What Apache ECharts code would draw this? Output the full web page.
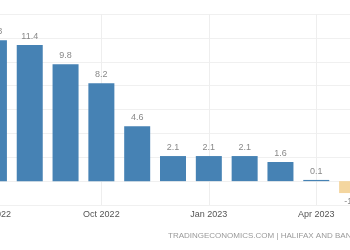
<!DOCTYPE html>
<html><head><meta charset="utf-8">
<script src="https://cdn.jsdelivr.net/npm/echarts@6/dist/echarts.min.js"></script>
<style>html,body{margin:0;padding:0;background:#fff;overflow:hidden}#c{position:absolute;left:-26px;top:0;width:396px;height:250px}</style>
</head><body><div id="c"></div>
<script>
var categories = ['Jul 2022','Aug 2022','Sep 2022','Oct 2022','Nov 2022','Dec 2022','Jan 2023','Feb 2023','Mar 2023','Apr 2023','May 2023'];
var values = [11.8, 11.4, 9.8, 8.2, 4.6, 2.1, 2.1, 2.1, 1.6, 0.1, -1.0];
var yMin = -2, yMax = 14, yStep = 2;
var sourceText = 'TRADINGECONOMICS.COM | HALIFAX AND BANK OF SCOTLAND';

var chart = echarts.init(document.getElementById('c'), null, {renderer:'canvas'});
var font = '"Liberation Sans", Arial, sans-serif';
chart.setOption({
  animation: false,
  grid: {left: 0, right: 0, top: 14, bottom: 45},
  xAxis: {
    type: 'category', data: categories, z: 0,
    axisLine: {show: false}, axisTick: {show: false},
    axisLabel: {interval: 2, color: '#555', fontSize: 9, fontFamily: font, margin: 5},
    splitLine: {show: true, interval: 2, alignWithLabel: true, lineStyle: {color: '#eeeeee', width: 1}}
  },
  yAxis: {
    type: 'value', min: yMin, max: yMax, interval: yStep, z: 0,
    axisLabel: {show: false}, axisLine: {show: false}, axisTick: {show: false},
    splitLine: {lineStyle: {color: '#f0f0f0', width: 1}}
  },
  series: [
    {
      type: 'bar', barWidth: 26, z: 5,
      data: values.map(function(v){
        return {value: v, itemStyle: {color: v < 0 ? '#f4d69f' : '#4682b4'},
                label: {position: v < 0 ? 'bottom' : 'top'}};
      }),
      label: {show: true, color: '#888', fontSize: 9, fontFamily: font, distance: 4,
              formatter: function(p){ return p.value.toFixed(1); }}
    }
  ],
  graphic: [{
    type: 'text', left: 194, top: 232,
    style: {text: sourceText, fill: '#999', font: '8px ' + font}
  }]
});
</script></body></html>
